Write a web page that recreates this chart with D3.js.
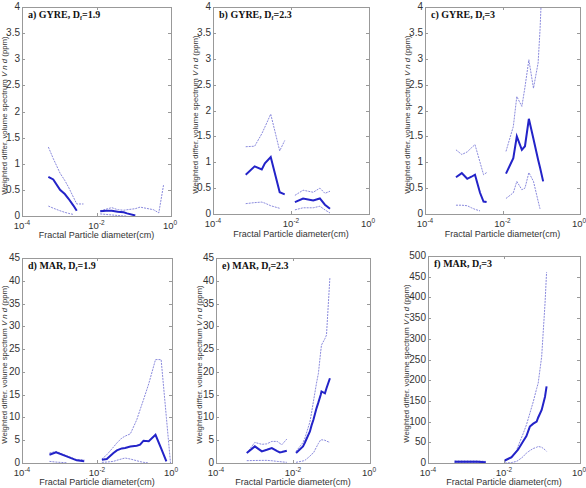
<!DOCTYPE html>
<html>
<head>
<meta charset="utf-8">
<script src="https://cdn.jsdelivr.net/npm/d3@7"></script>
<style>
  body { margin: 0; background: #fff; }
  svg { display: block; }
  text { font-family: "Liberation Sans", Arial, sans-serif; }
</style>
</head>
<body>
<svg width="586" height="488"></svg>
<script>
// diameters in cm, values in ppm; null = no line there

// a) GYRE Df=1.9
const aDiam1 = [5.1e-4, 6.9e-4, 1.05e-3, 1.41e-3, 1.78e-3, 2.4e-3, 2.95e-3, 4.47e-3];
const aUpper1 = [1.32, 1.1, 0.82, 0.68, 0.55, 0.36, 0.23, 0.23];
const aMean1 = [0.75, 0.7, 0.5, 0.42, 0.33, 0.2, 0.1, null];
const aLower1 = [0.19, 0.15, 0.1, 0.07, 0.05, 0.03, null, null];
const aDiam2 = [1.26e-2, 1.8e-2, 2.57e-2, 3.72e-2, 5.37e-2, 6.6e-2, 0.11, 0.148, 0.34, 0.47, 0.63];
const aUpper2 = [0.1, 0.13, 0.16, 0.12, 0.11, 0.12, 0.14, 0.17, 0.12, 0.06, 0.59];
const aMean2 = [0.09, 0.1, 0.1, 0.08, 0.07, 0.05, 0.01, null, null, null, null];
const aLower2 = [0.04, 0.03, 0.02, 0.01, 0.0, 0.0, null, null, null, null, null];

// b) GYRE Df=2.3
const bDiam1 = [6.9e-4, 1.17e-3, 1.78e-3, 2.14e-3, 3.02e-3, 5.13e-3, 6.9e-3];
const bUpper1 = [1.3, 1.31, 1.55, 1.68, 1.93, 1.22, 1.42];
const bMean1 = [0.76, 0.92, 0.86, 0.98, 1.1, 0.42, 0.38];
const bLower1 = [0.2, 0.22, 0.23, 0.21, 0.16, 0.11, null];
const bDiam2 = [1.26e-2, 2.04e-2, 3.72e-2, 5.5e-2, 7.41e-2, 0.1];
const bUpper2 = [0.36, 0.46, 0.42, 0.5, 0.4, 0.44];
const bMean2 = [0.23, 0.3, 0.26, 0.3, 0.18, 0.1];
const bLower2 = [0.08, 0.12, 0.12, 0.15, 0.08, 0.02];

// c) GYRE Df=3
const cDiam1 = [6.3e-4, 8.9e-4, 1.23e-3, 1.58e-3, 1.95e-3, 2.63e-3, 3.24e-3, 3.89e-3];
const cUpper1 = [1.24, 1.15, 1.2, 1.28, 1.34, 1.0, 0.76, 0.8];
const cMean1 = [0.71, 0.79, 0.68, 0.72, 0.76, 0.41, 0.24, 0.23];
const cLower1 = [0.17, 0.17, 0.16, 0.12, 0.09, 0.06, null, null];
const cDiam2 = [1.23e-2, 1.9e-2, 2.34e-2, 3.16e-2, 3.8e-2, 4.79e-2, 6.3e-2, 8.3e-2, 9.3e-2, 0.112];
const cUpper2 = [1.21, 1.69, 2.27, 2.08, 2.45, 2.98, 2.43, 2.92, 3.56, 5.0];
const cMean2 = [0.78, 1.08, 1.5, 1.24, 1.31, 1.84, 1.45, 1.05, 0.9, 0.63];
const cLower2 = [0.3, 0.41, 0.63, 0.47, 0.5, 0.8, 0.63, 0.25, 0.1, null];

// d) MAR Df=1.9
const dDiam1 = [5.4e-4, 8.1e-4, 1.55e-3, 2.88e-3, 4.57e-3];
const dUpper1 = [2.19, 2.55, 1.6, 0.73, 0.73];
const dMean1 = [1.82, 2.33, 1.46, 0.58, 0.36];
const dLower1 = [0.36, 0.2, 0.05, null, null];
const dDiam2 = [1.35e-2, 1.82e-2, 2.75e-2, 3.39e-2, 4.57e-2, 5.62e-2, 7.76e-2, 0.115, 0.141, 0.174, 0.24, 0.363, 0.513, 0.708, 0.912];
const dUpper2 = [0.88, 1.8, 3.5, 4.4, 5.47, 5.9, 6.4, 9.5, 11.7, 13.9, 17.4, 22.7, 22.7, 10, 0];
const dMean2 = [0.73, 0.88, 2.2, 2.77, 3.2, 3.28, 3.6, 3.8, 4.01, 4.9, 4.8, 6.2, 3.2, 0.35, null];
const dLower2 = [0.15, 0.2, 0.36, 0.6, 0.9, 1.09, 0.87, 0.5, 0.3, 0.15, 0, null, null, null, null];

// e) MAR Df=2.3
const eDiam1 = [6.3e-4, 1.02e-3, 1.55e-3, 2.09e-3, 2.82e-3, 3.89e-3, 4.57e-3, 5.13e-3, 6.9e-3];
const eUpper1 = [2.19, 4.52, 4.1, 4.2, 4.74, 4.74, 4.3, 4.01, 5.25];
const eMean1 = [2.19, 3.65, 2.55, 2.9, 3.28, 2.6, 2.33, 2.4, 2.7];
const eLower1 = [0.51, 0.55, 0.57, 0.58, 0.5, 0.35, 0.3, 0.25, 0.15];
const eDiam2 = [1.2e-2, 1.82e-2, 2.04e-2, 2.75e-2, 3.02e-2, 3.39e-2, 4.07e-2, 4.57e-2, 5.25e-2, 5.5e-2, 6.76e-2, 7.41e-2, 9.1e-2];
const eUpper2 = [2.55, 4.5, 5.47, 9.0, 10.94, 13.5, 17.5, 19.69, 24.5, 25.9, 27.3, 28.1, 40.8];
const eMean2 = [2.19, 3.65, 4.5, 6.93, 8.2, 9.5, 12.0, 13.3, 15.0, 15.7, 15.3, 16.4, 18.6];
const eLower2 = [0.15, 0.45, 0.58, 1.5, 1.9, 2.19, 3.5, 4.3, 5.1, 5.1, 5.0, 4.8, 4.52];

// f) MAR Df=3
const fDiam1 = [5e-4, 7e-4, 1e-3, 1.5e-3, 2e-3, 3.3e-3];
const fUpper1 = [5, 5, 5, 5, 5, 4];
const fMean1 = [3, 3, 3, 3, 3, 2];
const fLower1 = [1, 1, 1, 1, 1, 1];
const fDiam2 = [1.05e-2, 1.58e-2, 2.14e-2, 2.34e-2, 3.16e-2, 3.89e-2, 4.79e-2, 5.89e-2, 7.24e-2, 7.94e-2, 9.8e-2, 0.12, 0.132];
const fUpper2 = [4, 12, 30, 40, 70, 92, 120, 148, 180, 193, 257, 385, 461];
const fMean2 = [6, 14, 28, 32, 52, 65, 88, 95, 100, 110, 128, 160, 185];
const fLower2 = [0, 1, 4, 6, 15, 24, 30, 35, 38, 40, 38, 32, 28];

const xTicks = [1e-4, 1e-2, 1];
const xTickExp = ['-4', '-2', '0'];

const panels = [
  { tag: 'a) GYRE, D', val: '=1.9', left: 22, right: 171, top: 7, bottom: 216, yMax: 4, yStep: 0.5, labelX: 7, xlab: 22,
    segs: [[aDiam1, aUpper1, aMean1, aLower1], [aDiam2, aUpper2, aMean2, aLower2]] },
  { tag: 'b) GYRE, D', val: '=2.3', left: 213, right: 369, top: 7, bottom: 214, yMax: 4, yStep: 0.5, labelX: 198, xlab: 23,
    segs: [[bDiam1, bUpper1, bMean1, bLower1], [bDiam2, bUpper2, bMean2, bLower2]] },
  { tag: 'c) GYRE, D', val: '=3', left: 425, right: 580, top: 7, bottom: 214, yMax: 4, yStep: 0.5, labelX: 410, xlab: 23,
    segs: [[cDiam1, cUpper1, cMean1, cLower1], [cDiam2, cUpper2, cMean2, cLower2]] },
  { tag: 'd) MAR, D', val: '=1.9', left: 22, right: 172, top: 258, bottom: 463, yMax: 45, yStep: 5, labelX: 7, xlab: 22,
    segs: [[dDiam1, dUpper1, dMean1, dLower1], [dDiam2, dUpper2, dMean2, dLower2]] },
  { tag: 'e) MAR, D', val: '=2.3', left: 216, right: 370, top: 258, bottom: 463, yMax: 45, yStep: 5, labelX: 202, xlab: 22,
    segs: [[eDiam1, eUpper1, eMean1, eLower1], [eDiam2, eUpper2, eMean2, eLower2]] },
  { tag: 'f) MAR, D', val: '=3', left: 428, right: 580, top: 256, bottom: 463, yMax: 500, yStep: 50, labelX: 409, xlab: 22,
    segs: [[fDiam1, fUpper1, fMean1, fLower1], [fDiam2, fUpper2, fMean2, fLower2]] }
];

const svg = d3.select('svg');
const frameColor = '#999';
const textColor = '#333';

panels.forEach((p, pi) => {
  const x = d3.scaleLog().domain([1e-4, 1]).range([p.left, p.right]);
  const y = d3.scaleLinear().domain([0, p.yMax]).range([p.bottom, p.top]);
  const g = svg.append('g');

  svg.append('clipPath').attr('id', 'clip' + pi)
    .append('rect')
    .attr('x', p.left).attr('y', p.top)
    .attr('width', p.right - p.left).attr('height', p.bottom - p.top);

  // frame
  g.append('rect')
    .attr('x', p.left + 0.5).attr('y', p.top + 0.5)
    .attr('width', p.right - p.left).attr('height', p.bottom - p.top)
    .attr('fill', '#fff').attr('stroke', frameColor).attr('stroke-width', 1);

  // y ticks (both sides, inward)
  const yTicks = d3.range(0, p.yMax + p.yStep / 2, p.yStep);
  yTicks.forEach(v => {
    const yy = Math.round(y(v)) + 0.5;
    g.append('line').attr('x1', p.left).attr('x2', p.left + 3).attr('y1', yy).attr('y2', yy)
      .attr('stroke', frameColor);
    g.append('line').attr('x1', p.right - 3).attr('x2', p.right).attr('y1', yy).attr('y2', yy)
      .attr('stroke', frameColor);
    g.append('text')
      .attr('x', p.left - 2).attr('y', y(v) + 3)
      .attr('text-anchor', 'end')
      .attr('font-size', 10).attr('fill', textColor)
      .text(d3.format('~g')(v));
  });

  // x ticks
  xTicks.forEach((v, i) => {
    const xx = Math.round(x(v)) + 0.5;
    g.append('line').attr('x1', xx).attr('x2', xx).attr('y1', p.bottom - 3).attr('y2', p.bottom)
      .attr('stroke', frameColor);
    g.append('line').attr('x1', xx).attr('x2', xx).attr('y1', p.top).attr('y2', p.top + 3)
      .attr('stroke', frameColor);
    const t = g.append('text')
      .attr('x', i === 2 ? x(v) - 1 : x(v)).attr('y', p.bottom + 12.5)
      .attr('text-anchor', 'middle')
      .attr('font-size', 9.5).attr('fill', textColor);
    t.append('tspan').text('10');
    t.append('tspan').attr('dy', -4).attr('font-size', 6.5).text(xTickExp[i]);
  });

  // x label
  g.append('text')
    .attr('x', (p.left + p.right) / 2).attr('y', p.bottom + p.xlab)
    .attr('text-anchor', 'middle')
    .attr('font-size', 9).attr('fill', textColor)
    .text('Fractal Particle diameter(cm)');

  // y label
  const yl = g.append('text')
    .attr('transform', `translate(${p.labelX},${(p.top + p.bottom) / 2 + 4}) rotate(-90)`)
    .attr('text-anchor', 'middle')
    .attr('font-size', 7.8).attr('fill', textColor);
  yl.append('tspan').text('Weighted differ. volume spectrum  ');
  yl.append('tspan').attr('font-style', 'italic').text('V n d');
  yl.append('tspan').text('  (ppm)');

  // title
  const tt = g.append('text')
    .attr('x', p.left + 6).attr('y', p.top + 11)
    .style('font-family', '"Liberation Serif", "Times New Roman", serif')
    .attr('font-weight', 'bold').attr('font-size', 10).attr('fill', '#111');
  tt.append('tspan').text(p.tag);
  tt.append('tspan').attr('font-size', 6).attr('dy', 2).text('f');
  tt.append('tspan').attr('dy', -2).text(p.val);

  // lines
  const line = d3.line()
    .defined(d => d[1] != null)
    .x(d => x(d[0]))
    .y(d => y(d[1]));

  const lines = svg.append('g').attr('clip-path', `url(#clip${pi})`);
  p.segs.forEach(([diam, upper, mean, lower]) => {
    [upper, lower].forEach(vals => {
      lines.append('path')
        .attr('d', line(diam.map((dv, i) => [dv, vals[i]])))
        .attr('fill', 'none')
        .attr('stroke', '#7c7cd8')
        .attr('stroke-width', 0.9)
        .attr('stroke-dasharray', '2,1');
    });
    lines.append('path')
      .attr('d', line(diam.map((dv, i) => [dv, mean[i]])))
      .attr('fill', 'none')
      .attr('stroke', '#2323c8')
      .attr('stroke-width', 2);
  });
});
</script>
</body>
</html>
